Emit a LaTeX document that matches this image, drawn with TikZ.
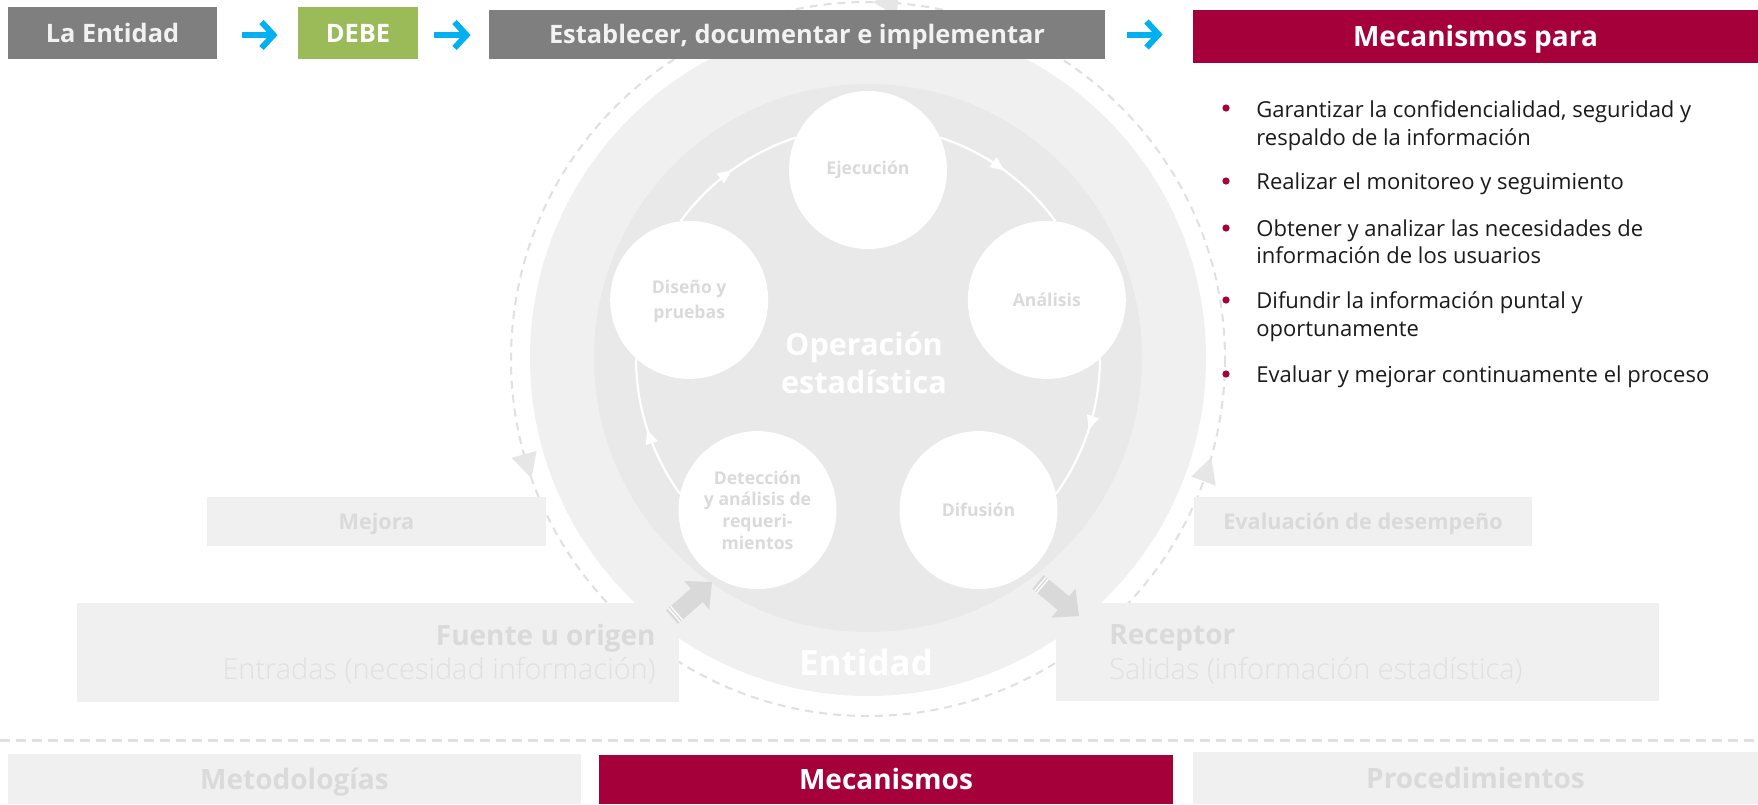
\documentclass[tikz,border=0pt]{standalone}
\usepackage{fontspec}
\setmainfont{Open Sans}
\newfontfamily\lightfont{Open Sans Light}
\usetikzlibrary{arrows.meta,decorations.markings,calc}
\definecolor{darkbox}{HTML}{7F7F7F}
\definecolor{debegreen}{HTML}{9BBB59}
\definecolor{crim}{HTML}{A50039}
\definecolor{arrcyan}{HTML}{00B0F0}
\definecolor{pale}{HTML}{F0F0F0}
\definecolor{innergray}{HTML}{E9E9E9}
\definecolor{faint}{HTML}{DADADA}
\definecolor{fainter}{HTML}{E0E0E0}
\definecolor{dashgray}{HTML}{E0E0E0}
\definecolor{dashhead}{HTML}{E6E6E6}
\definecolor{blockgray}{HTML}{D9D9D9}
\definecolor{offwhite}{HTML}{F2F2F2}
\definecolor{bodytext}{HTML}{1A1A1A}
\newcommand{\fsz}[2]{\fontsize{#1pt}{#2pt}\selectfont}
\begin{document}
\begin{tikzpicture}[x=0.5pt,y=-0.5pt,
  topbox/.style={inner sep=0pt, text height=9pt, text depth=0pt, font=\bfseries\fsz{12.7}{15}},
  botbox/.style={inner sep=0pt, text height=10pt, text depth=0pt, font=\bfseries\fsz{14}{16}},
  sidebox/.style={fill=pale, inner sep=0pt, text=faint, text height=7.7pt, text depth=0pt, font=\bfseries\fsz{10.8}{13}},
  plainbox/.style={fill=pale, inner sep=0pt},
  cyanarr/.style={draw=arrcyan, line width=3pt, -{Straight Barb[length=6pt,width=13pt]}},
  dot/.style={circle, fill=crim, minimum size=3.6pt, inner sep=0pt},
  btext/.style={anchor=base west, inner sep=0pt, text=bodytext, font=\fsz{11}{13}},
  stepc/.style={circle, fill=white, minimum size=79pt, inner sep=0pt},
  clabel/.style={align=center, inner sep=0pt, text=faint, font=\bfseries\fsz{8.8}{11.3}},
  bigw/.style={anchor=base, inner sep=0pt, text=white, font=\bfseries\fsz{15.3}{19}},
  cyclearc/.style={draw=white, line width=1.1pt, postaction={decorate},
     decoration={markings, mark=at position 0.5 with {\arrow{Triangle[length=7pt,width=6pt]}}}},
  boxtitle/.style={inner sep=0pt, text=faint, font=\bfseries\fsz{14}{16}},
  boxsub/.style={inner sep=0pt, text=fainter, font=\lightfont\fsz{14.45}{16}}
]
\useasboundingbox (0,0) rectangle (1758,804);
\fill[white] (0,0) rectangle (1758,804);

% dashed outer cycle
\coordinate (dc) at (868,359);
\draw[dashgray, line width=1pt, dash pattern=on 4pt off 3pt] (dc) circle[radius=357];
\fill[dashhead] ($(dc)+(160.5:357)$) -- ($(dc)+(164.5:370)$) -- ($(dc)+(164.5:344)$) -- cycle;
\fill[dashhead] ($(dc)+(16:357)$) -- ($(dc)+(20:370)$) -- ($(dc)+(20:344)$) -- cycle;
\fill[dashhead] ($(dc)+(270.8:357)$) -- ($(dc)+(274.8:370)$) -- ($(dc)+(274.8:344)$) -- cycle;

% side boxes
\node[sidebox, minimum width=169.5pt, minimum height=24.5pt] (mej) at (376.5,521.5) {Mejora};
\node[sidebox, minimum width=169pt, minimum height=24.5pt] (eva) at (1363,521.5) {Evaluación de desempeño};
\node[plainbox, minimum width=301pt, minimum height=49.5pt] (fue) at (378,652.5) {};
\node[plainbox, minimum width=301.5pt, minimum height=49pt] (rec) at (1357.5,652) {};

% disks
\coordinate (cen) at (868,358);
\node[circle, fill=pale, minimum size=338pt, inner sep=0pt] (outer) at (cen) {};
\node[circle, fill=innergray, minimum size=274pt, inner sep=0pt] (inner) at (cen) {};

% cycle arcs
\draw[cyclearc] (cen) ++(144.1:232) arc[start angle=144.1, end angle=179.9, radius=232];
\draw[cyclearc] (cen) ++(216.1:232) arc[start angle=216.1, end angle=251.9, radius=232];
\draw[cyclearc] (cen) ++(288.1:232) arc[start angle=288.1, end angle=323.9, radius=232];
\draw[cyclearc] (cen) ++(360.1:232) arc[start angle=360.1, end angle=395.9, radius=232];

% step circles
\node[stepc] (eje) at (868,170) {};
\node[stepc] (ana) at (1046.8,299.9) {};
\node[stepc] (dif) at (978.5,510.1) {};
\node[stepc] (det) at (757.5,510.1) {};
\node[stepc] (dis) at (689.2,299.9) {};
\node[clabel] (ejel) at (eje) {Ejecución};
\node[clabel] (anal) at (ana) {Análisis};
\node[clabel] (difl) at (dif) {Difusión};
\node[clabel, font=\bfseries\fsz{8.8}{10.8}] (detl) at (det) {Detección\\y análisis de\\requeri-\\mientos};
\node[clabel, font=\bfseries\fsz{8.8}{12.5}] (disl) at ([yshift=-1pt]dis) {Diseño y\\pruebas};

\node[bigw] (op1) at (864,355) {Operación};
\node[bigw] (op2) at (864,393) {estadística};
\node[bigw, font=\bfseries\fsz{17.5}{20}] (entl) at (866,675) {Entidad};

% block arrows
\fill[blockgray] (666.1,610.2) -- (690.9,588.5) -- (684.3,581.0) -- (711.9,582.1) -- (709.3,609.6) -- (702.7,602.1) -- (677.9,623.8) -- cycle;
\draw[white, line width=0.6pt] (680.2,621.8) -- (668.4,608.2) (682.4,619.9) -- (670.6,606.3);
\fill[blockgray] (1043.7,575.1) -- (1069.1,596.2) -- (1075.5,588.5) -- (1079,616) -- (1051.3,617.7) -- (1057.7,610.0) -- (1032.3,588.9) -- cycle;
\draw[white, line width=0.6pt] (1034.6,590.8) -- (1046.0,577.0) (1036.9,592.7) -- (1048.3,578.9);

% texts of source / receiver
\node[boxtitle, anchor=base east] (fuet) at (656,645) {Fuente u origen};
\node[boxsub, anchor=base east] (fues) at (656,679) {Entradas (necesidad información)};
\node[boxtitle, anchor=base west] (rect) at (1109,644) {Receptor};
\node[boxsub, anchor=base west] (recs) at (1109,679) {Salidas (información estadística)};

% top row
\node[topbox, fill=darkbox, text=offwhite, minimum width=104.5pt, minimum height=26pt] (ent) at (112.5,33) {La Entidad};
\node[topbox, fill=debegreen, text=white, minimum width=60pt, minimum height=26pt] (debe) at (358,33) {DEBE};
\node[topbox, fill=darkbox, text=offwhite, minimum width=308pt, minimum height=24.5pt] (est) at (797,34.5) {Establecer, documentar e implementar};
\node[topbox, fill=crim, text=white, minimum width=282.5pt, minimum height=26.5pt, text height=10pt, font=\bfseries\fsz{14}{16}] (mecp) at (1475.5,36.5) {Mecanismos para};
\draw[cyanarr] ([xshift=12.5pt,yshift=-1pt]ent.east) -- ([xshift=-10pt,yshift=-1pt]debe.west);
\draw[cyanarr] ([xshift=8pt,yshift=-1pt]debe.east) -- ([xshift=-9pt,yshift=-1pt]debe.east -| est.west);
\draw[cyanarr] ([xshift=11pt]est.east) -- ([xshift=-15pt]est.east -| mecp.west);

% bullets
\node[dot] (d1) at (1226,108) {};
\node[btext] (t1a) at (1256,117) {Garantizar la confidencialidad, seguridad y};
\node[btext] (t1b) at (1256,145) {respaldo de la información};
\node[dot] (d2) at (1226,181) {};
\node[btext] (t2) at (1256,189) {Realizar el monitoreo y seguimiento};
\node[dot] (d3) at (1226,228) {};
\node[btext] (t3a) at (1256,236) {Obtener y analizar las necesidades de};
\node[btext] (t3b) at (1256,263) {información de los usuarios};
\node[dot] (d4) at (1226,300) {};
\node[btext] (t4a) at (1256,308) {Difundir la información puntal y};
\node[btext] (t4b) at (1256,336) {oportunamente};
\node[dot] (d5) at (1226,374) {};
\node[btext] (t5) at (1256,382) {Evaluar y mejorar continuamente el proceso};

% separator and bottom row
\coordinate (sepl) at (0,740);
\coordinate (sepr) at (1758,740);
\draw[dashgray, line width=1.5pt, dash pattern=on 5pt off 3pt] (sepl) -- (sepr);
\node[botbox, fill=pale, text=faint, minimum width=286.5pt, minimum height=25pt] (meto) at (294.5,779) {Metodologías};
\node[botbox, fill=crim, text=white, minimum width=287pt, minimum height=24.5pt] (mecb) at (886,779.5) {Mecanismos};
\node[botbox, fill=pale, text=faint, minimum width=282.5pt, minimum height=26pt] (proc) at (1475.5,778) {Procedimientos};
\end{tikzpicture}
\end{document}
